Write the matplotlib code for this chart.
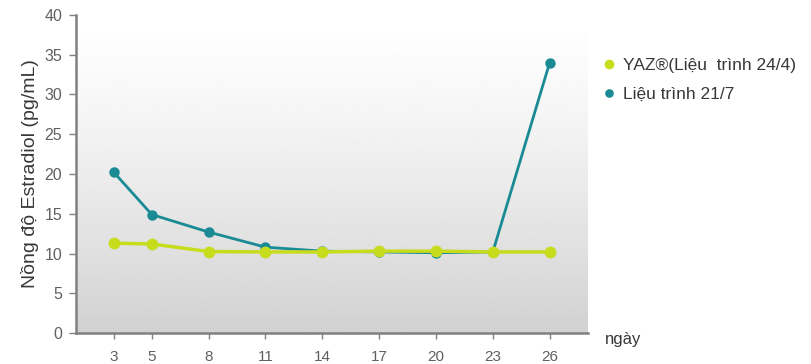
import numpy as np
import matplotlib.pyplot as plt

plt.rcParams['font.family'] = ['Liberation Sans', 'DejaVu Sans']

days = [3, 5, 8, 11, 14, 17, 20, 23, 26]
yaz_24_4 = [11.3, 11.2, 10.25, 10.2, 10.2, 10.3, 10.3, 10.2, 10.2]
regimen_21_7 = [20.2, 14.9, 12.7, 10.8, 10.3, 10.2, 10.1, 10.2, 34.0]

teal = '#1a8b95'
lime = '#c6dc1c'
axis_grey = '#808080'
text_grey = '#606060'

fig = plt.figure(figsize=(8.12, 3.64), dpi=100)
ax = fig.add_axes([0.0936, 0.085, 0.63, 0.874])

ax.set_xlim(1, 28)
ax.set_ylim(0, 40)

# vertical grey gradient behind the plot, white at the top
t = np.linspace(0, 1, 256).reshape(-1, 1)
grad = 1.0 - 0.18 * (1 - t) ** 1.3
ax.imshow(grad, extent=[1, 28, 0, 40], origin='lower', aspect='auto',
          cmap='gray', vmin=0, vmax=1, zorder=0)

ax.plot(days, regimen_21_7, color=teal, lw=2, marker='o', ms=6.5,
        zorder=3, label='Liệu trình 21/7')
ax.plot(days, yaz_24_4, color=lime, lw=2.5, marker='o', ms=7.5,
        zorder=4, label='YAZ®(Liệu  trình 24/4)')

ax.set_xticks(days)
ax.set_yticks(range(0, 41, 5))
for side in ('top', 'right'):
    ax.spines[side].set_visible(False)
for side in ('left', 'bottom'):
    ax.spines[side].set_color(axis_grey)
    ax.spines[side].set_linewidth(1.8)
ax.tick_params(axis='y', colors=axis_grey, labelcolor=text_grey,
               labelsize=11.5, length=5, width=1, pad=5)
ax.tick_params(axis='x', colors=axis_grey, labelcolor=text_grey,
               labelsize=11, length=4, width=1, pad=8)

ax.set_ylabel('Nồng độ Estradiol (pg/mL)', fontsize=14, color='#383838',
              labelpad=4)

handles, labels = ax.get_legend_handles_labels()
leg = fig.legend(handles[::-1], labels[::-1], loc='upper left',
                 bbox_to_anchor=(0.727, 0.885), frameon=False, fontsize=12.5,
                 handlelength=0.4, handletextpad=0.6, labelspacing=0.8,
                 markerscale=0.8)
for h in leg.legend_handles:
    h.set_linestyle('none')
for t in leg.get_texts():
    t.set_color('#383838')

fig.text(0.745, 0.066, 'ngày', fontsize=12, color='#383838', va='center')

fig.savefig('out.png', dpi=100)
